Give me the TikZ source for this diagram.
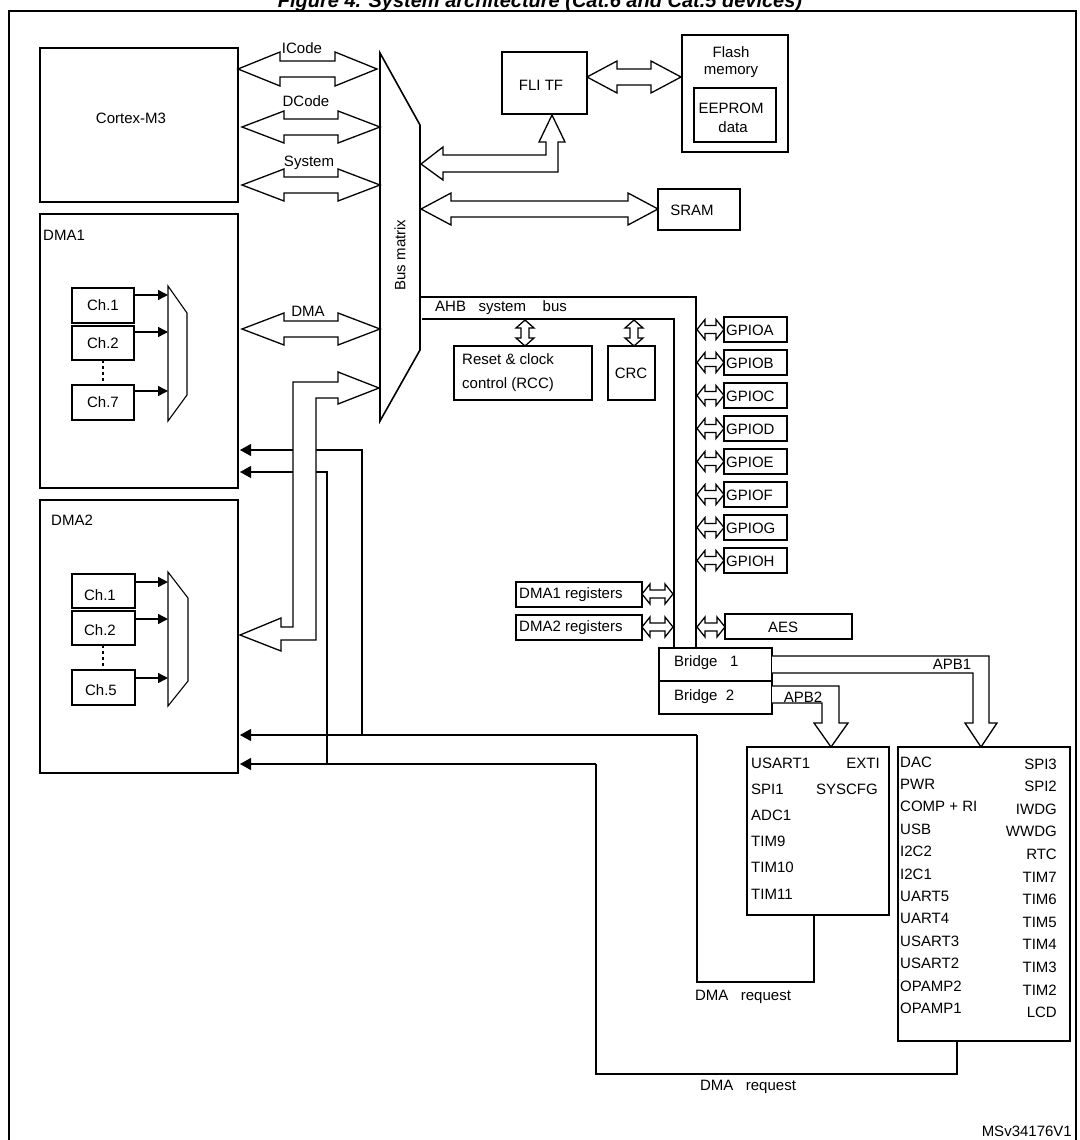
\documentclass[tikz,border=0pt]{standalone}
\usepackage{fontspec}
\setmainfont{Liberation Sans}
\usetikzlibrary{arrows.meta}

% hollow double-headed bus arrow: x1, x2, y, head length, shaft half, head half
\newcommand{\busarrowh}[6]{%
  \draw [line width = 1.3pt, fill = white] (#1,#3) -- ({#1+#4},{#3-#6}) -- ({#1+#4},{#3-#5}) -- ({#2-#4},{#3-#5}) -- ({#2-#4},{#3-#6}) -- (#2,#3)
    -- ({#2-#4},{#3+#6}) -- ({#2-#4},{#3+#5}) -- ({#1+#4},{#3+#5}) -- ({#1+#4},{#3+#6}) -- cycle;}
% vertical version: x, y1, y2, head length, shaft half, head half
\newcommand{\busarrowv}[6]{%
  \draw [line width = 1.3pt, fill = white] (#1,#2) -- ({#1+#6},{#2+#4}) -- ({#1+#5},{#2+#4}) -- ({#1+#5},{#3-#4}) -- ({#1+#6},{#3-#4}) -- (#1,#3)
    -- ({#1-#6},{#3-#4}) -- ({#1-#5},{#3-#4}) -- ({#1-#5},{#2+#4}) -- ({#1-#6},{#2+#4}) -- cycle;}

\tikzset{
  blk/.style = {draw, line width = 1.6pt, inner sep = 0pt},
  lbl/.style = {font = \fontsize{15}{17}\selectfont, inner sep = 1pt},
  req/.style = {line width = 1.1pt},
  reqtip/.style = {-{Triangle[length = 11pt, width = 12pt]}, line width = 1.1pt},
  chtip/.style = {-{Triangle[length = 10pt, width = 10pt]}, line width = 1.4pt},
  gp/.style = {blk, line width = 1.4pt}
}

\begin{document}
\begin{tikzpicture}[x = 1pt, y = -1pt]
	\useasboundingbox (0, 0) rectangle (1079, 1140);

	\node [font = \fontsize{20}{22}\selectfont\bfseries\itshape] (title) at (540, 2) {Figure 4. System architecture (Cat.6 and Cat.5 devices)};
	\draw [line width = 1.6pt] (9, 1160) -- (9, 11) -- (1076, 11) -- (1076, 1160);

	% CPU and DMA blocks
	\draw [blk] (40, 48) rectangle (238, 202);
	\node [lbl] (cpu) at (131, 118) {Cortex-M3};

	\draw [blk] (40, 214) rectangle (238, 488);
	\node [lbl, anchor = west] (dma1) at (42, 235) {DMA1};
	\draw [blk] (40, 500) rectangle (238, 773);
	\node [lbl, anchor = west] (dma2) at (50, 520) {DMA2};

	\draw [blk, line width = 1.3pt] (72, 288) rectangle (134, 323);
	\node [lbl] (d1c1) at (103, 305) {Ch.1};
	\draw [blk, line width = 1.3pt] (72, 326) rectangle (134, 360);
	\node [lbl] (d1c2) at (103, 343) {Ch.2};
	\draw [blk, line width = 1.3pt] (72, 385) rectangle (134, 420);
	\node [lbl] (d1c7) at (103, 402) {Ch.7};
	\draw [dashed, line width = 1.3pt] (103, 360) -- (103, 385);
	\draw [line width = 1.1pt] (168, 286) -- (187, 313) -- (187, 395) -- (168, 421) -- cycle;
	\foreach \y in {295, 332, 391} \draw [chtip] (134, \y) -- (168, \y);

	\draw [blk, line width = 1.3pt] (72, 574) rectangle (135, 608);
	\node [lbl] (d2c1) at (100, 595) {Ch.1};
	\draw [blk, line width = 1.3pt] (72, 611) rectangle (135, 645);
	\node [lbl] (d2c2) at (100, 630) {Ch.2};
	\draw [blk, line width = 1.3pt] (72, 670) rectangle (135, 705);
	\node [lbl] (d2c5) at (101, 690) {Ch.5};
	\draw [dashed, line width = 1.3pt] (103, 645) -- (103, 670);
	\draw [line width = 1.1pt] (168, 572) -- (188, 598) -- (188, 681) -- (168, 706) -- cycle;
	\foreach \y in {582, 619, 678} \draw [chtip] (135, \y) -- (168, \y);

	% bus matrix
	\draw [line width = 1.6pt] (380, 53) -- (420, 125) -- (420, 350) -- (380, 421) -- cycle;
	\node [lbl, rotate = 90] (bm) at (400, 255) {Bus matrix};

	\busarrowh{238}{377}{69}{42}{8}{17}
	\busarrowh{242}{380}{127}{42}{8}{16}
	\busarrowh{242}{380}{185}{42}{8}{16}
	\busarrowh{242}{380}{329}{42}{8}{16}
	\node [lbl] (icode) at (302, 48) {ICode};
	\node [lbl] (dcode) at (306, 101) {DCode};
	\node [lbl] (sys) at (309, 163) {System};
	\node [lbl] (dma) at (308, 311) {DMA};

	% DMA request lines
	\draw [reqtip] (362, 735) -- (362, 450) -- (240, 450);
	\draw [reqtip] (697, 735) -- (240, 735);
	\draw [req] (814, 915) -- (814, 982) -- (697, 982) -- (697, 735);
	\draw [reqtip] (327, 764) -- (327, 472) -- (240, 472);
	\draw [reqtip] (596, 764) -- (240, 764);
	\draw [req] (957, 1041) -- (957, 1074) -- (596, 1074) -- (596, 764);

	% DMA data path from bus matrix
	\draw [line width = 1.3pt, fill = white] (281, 627) -- (293, 627) -- (293, 382) -- (338, 382) -- (338, 372) -- (379, 388)
		-- (338, 404) -- (338, 398) -- (316, 398) -- (316, 640) -- (281, 640) -- (281, 651) -- (240, 635) -- (281, 618) -- cycle;

	% memories
	\draw [blk] (502, 52) rectangle (587, 114);
	\node [lbl] (flitf) at (541, 85) {FLI TF};
	\draw [blk] (682, 35) rectangle (788, 152);
	\node [lbl, align = center, font = \fontsize{15}{17}\selectfont] (flash) at (731, 62) {Flash\\memory};
	\draw [blk] (694, 88) rectangle (776, 142);
	\node [lbl, align = center, font = \fontsize{15}{19}\selectfont] (eeprom) at (731, 118) {EEPROM\\\ data};
	\busarrowh{587}{681}{77}{30}{8}{16}
	\draw [line width = 1.3pt, fill = white] (421, 164) -- (443, 147) -- (443, 155) -- (546, 155) -- (546, 142) -- (539, 142) -- (552, 115)
		-- (565, 142) -- (558, 142) -- (558, 172) -- (443, 172) -- (443, 180) -- cycle;
	\busarrowh{421}{658}{209}{30}{8}{16}
	\draw [blk] (658, 189) rectangle (740, 230);
	\node [lbl] (sram) at (692, 210) {SRAM};

	% AHB system bus
	\draw [line width = 1.6pt] (421, 297) -- (696, 297) -- (696, 648);
	\draw [line width = 1.6pt] (422, 319) -- (674, 319) -- (674, 648);
	\node [lbl, anchor = west] (ahb) at (434, 308) {AHB\ \ \ system\ \ \ \ bus};

	\busarrowv{525}{320}{346}{8}{4}{9}
	\draw [blk] (454, 346) rectangle (592, 400);
	\node [lbl, anchor = west, align = left, font = \fontsize{15}{24}\selectfont] (rcc) at (461, 373) {Reset \& clock\\control (RCC)};
	\busarrowv{634}{320}{346}{8}{4}{9}
	\draw [blk] (608, 346) rectangle (655, 400);
	\node [lbl] (crc) at (631, 373) {CRC};

	\foreach \g [count = \i from 0] in {A, B, C, D, E, F, G, H} {
		\draw [gp] (724, {317 + 33*\i}) rectangle (787, {342 + 33*\i});
		\node [lbl, anchor = west] (gpio\g) at (725, {330 + 33*\i}) {GPIO\g};
		\busarrowh{697}{724}{329.5 + 33*\i}{8}{4}{10}
	}
	\draw [gp] (725, 614) rectangle (852, 639);
	\node [lbl] (aes) at (783, 627) {AES};
	\busarrowh{697}{725}{627}{8}{4}{10}

	\draw [gp] (516, 582) rectangle (642, 607);
	\node [lbl, anchor = west] (dma1reg) at (518, 595) {DMA1 registers};
	\draw [gp] (516, 615) rectangle (642, 640);
	\node [lbl, anchor = west] (dma2reg) at (518, 628) {DMA2 registers};
	\busarrowh{642}{673}{594}{8}{4}{10}
	\busarrowh{642}{673}{627}{8}{4}{10}

	% bridges and APB
	\draw [blk] (659, 648) rectangle (772, 681);
	\node [lbl, anchor = west] (br1) at (673, 663) {Bridge\ \ \ 1};
	\draw [blk] (659, 681) rectangle (772, 714);
	\node [lbl, anchor = west] (br2) at (673, 697) {Bridge\ \ 2};

	\draw [line width = 1.3pt, fill = white] (772, 656) -- (989, 656) -- (989, 723) -- (997, 723) -- (981, 747) -- (965, 723) -- (973, 723) -- (973, 673) -- (772, 673);
	\node [lbl] (apb1) at (952, 664) {APB1};
	\draw [line width = 1.3pt, fill = white] (772, 686) -- (839, 686) -- (839, 723) -- (848, 723) -- (831, 747) -- (814, 723) -- (822, 723) -- (822, 703) -- (772, 703);
	\node [lbl] (apb2) at (803, 697) {APB2};

	\draw [blk] (747, 747) rectangle (889, 915);
	\foreach \t [count = \i from 0] in {USART1, SPI1, ADC1, TIM9, TIM10, TIM11}
		\node [lbl, anchor = west] (apbii\i) at (750, {763 + 26.2*\i}) {\t};
	\node [lbl, anchor = east] (exti) at (881, 763) {EXTI};
	\node [lbl, anchor = east] (syscfg) at (879, 789) {SYSCFG};

	\draw [blk] (898, 747) rectangle (1070, 1041);
	\foreach \t [count = \i from 0] in {DAC, PWR, COMP + RI, USB, I2C2, I2C1, UART5, UART4, USART3, USART2, OPAMP2, OPAMP1}
		\node [lbl, anchor = west] (apbl\i) at (899, {762 + 22.4*\i}) {\t};
	\foreach \t [count = \i from 0] in {SPI3, SPI2, IWDG, WWDG, RTC, TIM7, TIM6, TIM5, TIM4, TIM3, TIM2, LCD}
		\node [lbl, anchor = east] (apbr\i) at (1058, {764 + 22.6*\i}) {\t};

	\node [lbl] (req2) at (743, 997) {DMA\ \ \ request};
	\node [lbl] (req1) at (748, 1087) {DMA\ \ \ request};
	\node [lbl, anchor = east] (ref) at (1073, 1131) {MSv34176V1};
\end{tikzpicture}
\end{document}
